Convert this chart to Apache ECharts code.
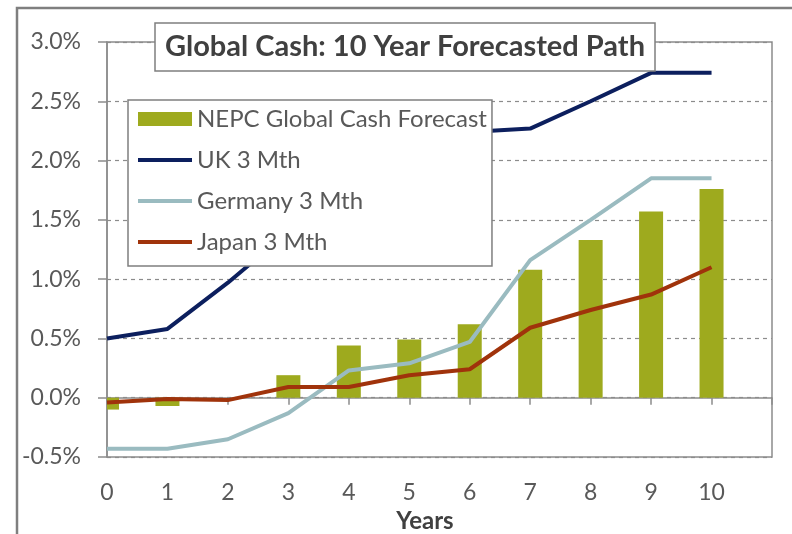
<!DOCTYPE html>
<html>
<head>
<meta charset="utf-8">
<script src="https://cdn.jsdelivr.net/npm/echarts@6/dist/echarts.min.js"></script>
<style>
  html, body { margin: 0; padding: 0; background: #fff; }
  #main { width: 792px; height: 534px; }
</style>
</head>
<body>
<div id="main"></div>
<script>
// x categories (last one is the empty slot at the right edge)
const years = ['0', '1', '2', '3', '4', '5', '6', '7', '8', '9', '10', ''];
const yTicks = [-0.5, 0, 0.5, 1.0, 1.5, 2.0, 2.5, 3.0];

// values in %
const forecast = [-0.10, -0.07, 0, 0.19, 0.44, 0.49, 0.62, 1.08, 1.33, 1.57, 1.76];
const ukRate = [0.50, 0.58, 0.97, 1.40, 1.72, 2.00, 2.24, 2.27, 2.50, 2.74, 2.74];
const germanyRate = [-0.43, -0.43, -0.35, -0.13, 0.23, 0.29, 0.47, 1.16, 1.50, 1.85, 1.85];
const japanRate = [-0.04, -0.01, -0.02, 0.09, 0.09, 0.19, 0.24, 0.59, 0.74, 0.87, 1.10];

const font = 'Lato';
const grey = '#8c8c8c';
const textGrey = '#595959';
const barColor = '#9eaa1e';

const chart = echarts.init(document.getElementById('main'));

// bars drawn as a custom series so that the half bar at year 0 gets clipped at the y axis
function renderBar(params, api) {
  const base = api.coord([api.value(0), 0]);
  const top = api.coord([api.value(0), api.value(1)]);
  const w = 24;
  return {
    type: 'rect',
    shape: {
      x: base[0] - w / 2,
      y: Math.min(base[1], top[1]),
      width: w,
      height: Math.abs(top[1] - base[1])
    },
    style: { fill: barColor }
  };
}

const lineLegend = { lineStyle: { width: 4 }, itemStyle: { opacity: 0 } };

const option = {
  animation: false,
  backgroundColor: '#fff',
  graphic: [{
    type: 'rect',
    shape: { x: 17, y: 8, width: 800, height: 560 },
    style: { fill: null, stroke: '#7f7f7f', lineWidth: 2.5 },
    z: 10
  }],
  title: {
    text: 'Global Cash: 10 Year Forecasted Path',
    left: 155,
    top: 23,
    padding: [8, 10],
    borderColor: '#7f7f7f',
    borderWidth: 1.5,
    backgroundColor: '#fff',
    textStyle: {
      fontFamily: font,
      fontWeight: 'bold',
      fontSize: 29,
      lineHeight: 32,
      color: '#404040'
    }
  },
  legend: {
    orient: 'vertical',
    left: 128,
    top: 100,
    padding: [7, 5, 12, 8],
    itemWidth: 54,
    itemHeight: 14,
    itemGap: 17,
    borderColor: '#7f7f7f',
    borderWidth: 1.5,
    backgroundColor: '#fff',
    textStyle: { fontFamily: font, fontSize: 24, lineHeight: 24, color: textGrey },
    data: [
      { name: 'NEPC Global Cash Forecast', icon: 'rect' },
      Object.assign({ name: 'UK 3 Mth' }, lineLegend),
      Object.assign({ name: 'Germany 3 Mth' }, lineLegend),
      Object.assign({ name: 'Japan 3 Mth' }, lineLegend)
    ]
  },
  grid: {
    left: 107,
    right: 20,
    top: 42,
    bottom: 77,
    outerBoundsMode: 'none',
    show: true,
    borderColor: grey,
    borderWidth: 1.5
  },
  xAxis: [{
    type: 'category',
    data: years,
    boundaryGap: false,
    position: 'bottom',
    axisLine: { show: false, onZero: false },
    axisTick: { show: false },
    axisLabel: { fontFamily: font, fontSize: 23, color: textGrey, margin: 24, interval: 0 },
    name: 'Years',
    nameLocation: 'middle',
    nameGap: 46,
    nameTextStyle: { fontFamily: font, fontWeight: 'bold', fontSize: 24, color: '#404040', padding: [0, 29, 0, 0] },
    splitLine: { show: false }
  }, {
    type: 'category',
    data: years,
    boundaryGap: false,
    position: 'bottom',
    axisLine: { show: true, onZero: true, lineStyle: { color: grey, width: 1.5 } },
    axisTick: { show: true, length: 7, interval: 0, lineStyle: { color: grey, width: 1.5 } },
    axisLabel: { show: false },
    splitLine: { show: false }
  }],
  yAxis: {
    type: 'value',
    min: yTicks[0],
    max: yTicks[yTicks.length - 1],
    interval: 0.5,
    axisLine: { show: true, lineStyle: { color: grey, width: 1.5 } },
    axisTick: { show: true, length: 9, lineStyle: { color: grey, width: 1.5 } },
    axisLabel: {
      fontFamily: font, fontSize: 23, color: textGrey, margin: 26,
      formatter: v => v.toFixed(1) + '%'
    },
    splitLine: { show: true, lineStyle: { color: grey, type: [4, 4], width: 1.2 } }
  },
  series: [{
    name: 'NEPC Global Cash Forecast',
    type: 'custom',
    renderItem: renderBar,
    data: forecast.map((v, i) => [i, v]),
    encode: { x: 0, y: 1 },
    itemStyle: { color: barColor },
    clip: true
  }, {
    name: 'UK 3 Mth',
    type: 'line',
    data: ukRate,
    symbol: 'none',
    lineStyle: { color: '#0c1f5e', width: 4 },
    itemStyle: { color: '#0c1f5e' }
  }, {
    name: 'Germany 3 Mth',
    type: 'line',
    data: germanyRate,
    symbol: 'none',
    lineStyle: { color: '#9abbc0', width: 4 },
    itemStyle: { color: '#9abbc0' }
  }, {
    name: 'Japan 3 Mth',
    type: 'line',
    data: japanRate,
    symbol: 'none',
    lineStyle: { color: '#a0330b', width: 4 },
    itemStyle: { color: '#a0330b' }
  }]
};

chart.setOption(option);
</script>
</body>
</html>
